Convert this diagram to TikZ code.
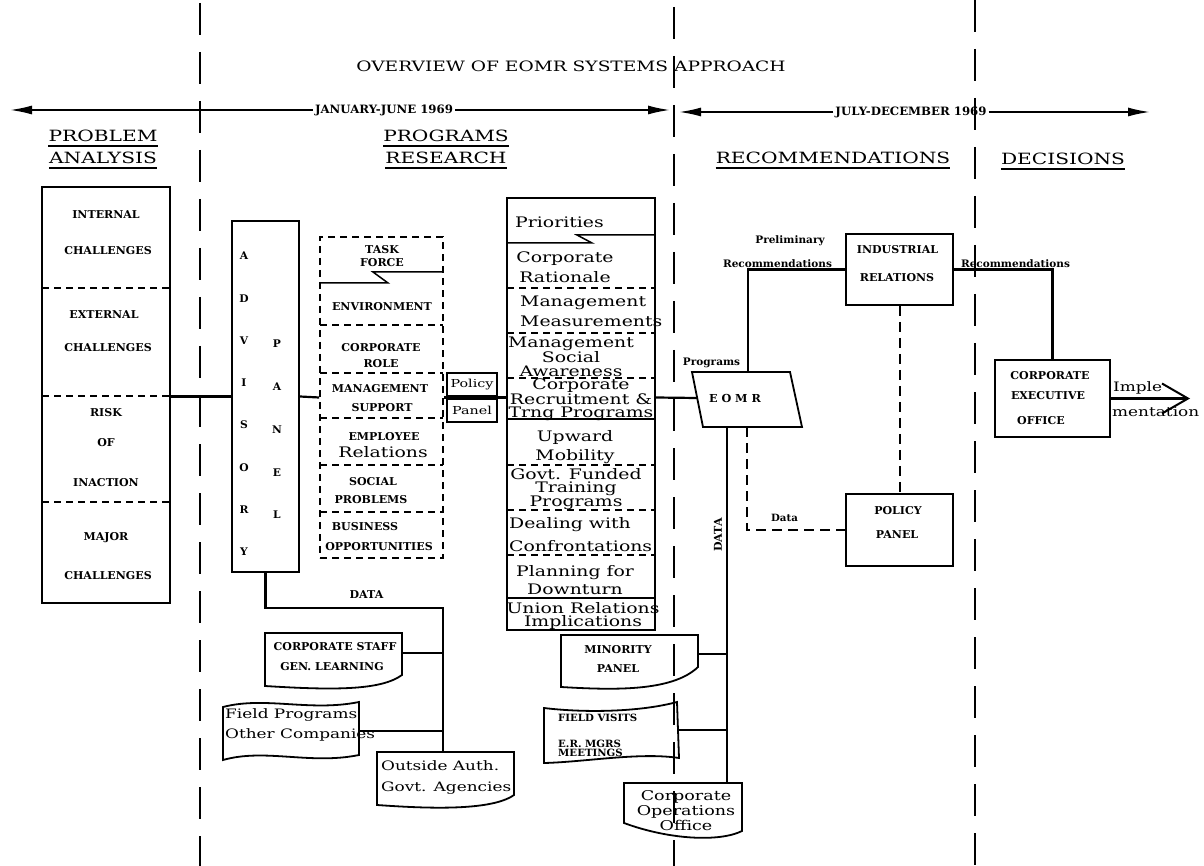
\documentclass[tikz,border=0pt]{standalone}
\usepackage{fontspec}
\setmainfont{DejaVu Serif}[FakeStretch=1.3]
\newfontfamily\lbfont{DejaVu Serif}[FakeStretch=1.02]
\usetikzlibrary{arrows.meta}
\begin{document}
\begin{tikzpicture}[x=1pt,y=-1pt,
  conn/.style={line width=2.2pt},
  thin/.style={line width=1.5pt},
  bx/.style={draw,line width=1.8pt,inner sep=0pt},
  dbox/.style={draw,line width=1.6pt,dash pattern=on 7pt off 5pt,inner sep=0pt},
  dsh/.style={line width=1.6pt,dash pattern=on 7pt off 5pt},
  dsh2/.style={line width=2pt,dash pattern=on 10pt off 6pt},
  sepline/.style={line width=2pt,dash pattern=on 32pt off 17pt},
  doc/.style={line width=1.8pt},
  lb/.style={font=\lbfont\fontsize{10.8}{12}\selectfont\bfseries,inner sep=0pt},
  hd/.style={font=\fontsize{15.5}{17}\selectfont,inner sep=0pt},
  tw/.style={inner sep=0pt,align=center},
  ul/.style={line width=1.4pt},
  bigarrow/.style={line width=1.8pt,-{Latex[length=22pt,width=9pt]}}
]
\useasboundingbox (0,0) rectangle (1204,866);
\fill[white] (0,0) rectangle (1204,866);

% separators
\draw[sepline] (200,3) -- (200,866);
\draw[sepline] (674,7) -- (674,866);
\draw[sepline] (975,0) -- (975,866);

% title and time arrows
\node[font=\fontsize{14.3}{16}\selectfont,inner sep=0pt] (title) at (571,66) {OVERVIEW OF EOMR SYSTEMS APPROACH};
\node[lb,font=\lbfont\fontsize{11.5}{12}\selectfont\bfseries] (jan) at (384,110) {JANUARY-JUNE 1969};
\node[lb,font=\lbfont\fontsize{11.5}{12}\selectfont\bfseries] (jul) at (911,112) {JULY-DECEMBER 1969};
\coordinate (aL1) at (10,110);
\coordinate (aR1) at (670,110);
\coordinate (aL2) at (679,112);
\coordinate (aR2) at (1150,112);
\draw[bigarrow] ([xshift=-2pt]jan.west) -- (aL1);
\draw[bigarrow] ([xshift=2pt]jan.east) -- (aR1);
\draw[bigarrow] ([xshift=-2pt]jul.west) -- (aL2);
\draw[bigarrow] ([xshift=2pt]jul.east) -- (aR2);

% headers
\node[hd] (h1) at (103,136) {PROBLEM};
\node[hd] (h2) at (103,158) {ANALYSIS};
\node[hd] (h3) at (446,136) {PROGRAMS};
\node[hd] (h4) at (446,158) {RESEARCH};
\node[hd] (h5) at (833,158) {RECOMMENDATIONS};
\node[hd] (h6) at (1063,159) {DECISIONS};
\foreach \n in {h1,h2,h3,h4,h5,h6}
  \draw[ul] ([yshift=-4pt]\n.south west) -- ([yshift=-4pt]\n.south east);

% problem analysis column
\node[bx,minimum width=128pt,minimum height=416pt] (prob) at (106,395) {};
\foreach \yy in {288,396,502} \draw[dsh] (42,\yy) -- (170,\yy);
\node[lb] (p1) at (106,215) {INTERNAL};
\node[lb] (p2) at (108,251) {CHALLENGES};
\node[lb] (p3) at (104,315) {EXTERNAL};
\node[lb] (p4) at (108,348) {CHALLENGES};
\node[lb] (p5) at (106,413) {RISK};
\node[lb] (p6) at (106,443) {OF};
\node[lb] (p7) at (106,483) {INACTION};
\node[lb] (p8) at (106,538) {MAJOR};
\node[lb] (p9) at (108,576) {CHALLENGES};

% advisory panel
\node[bx,minimum width=67pt,minimum height=351pt] (adv) at (265.5,396.5) {};
\node[lb,align=center,font=\lbfont\fontsize{10.5}{42.3}\selectfont\bfseries] (advl) at (244,404) {A\\D\\V\\I\\S\\O\\R\\Y};
\node[lb,align=center,font=\lbfont\fontsize{10.5}{42.75}\selectfont\bfseries] (panl) at (277,429.5) {P\\A\\N\\E\\L};

% task force column
\node[dbox,minimum width=123pt,minimum height=321pt] (task) at (381.5,397.5) {};
\draw[thin] (443,272) -- (373,272) -- (388,283) -- (320,283);
\foreach \yy in {325,373,418,465,512} \draw[dsh] (320,\yy) -- (443,\yy);
\node[lb] (k1) at (382,250) {TASK};
\node[lb] (k2) at (382,263) {FORCE};
\node[lb] (k3) at (382,307) {ENVIRONMENT};
\node[lb] (k4) at (381,348) {CORPORATE};
\node[lb] (k5) at (381,364) {ROLE};
\node[lb] (k6) at (380,389) {MANAGEMENT};
\node[lb] (k7) at (382,408) {SUPPORT};
\node[lb] (k8) at (384,437) {EMPLOYEE};
\node[inner sep=0pt,font=\fontsize{14.5}{16}\selectfont] (k9) at (383,452) {Relations};
\node[lb] (k10) at (373,482) {SOCIAL};
\node[lb] (k11) at (371,500) {PROBLEMS};
\node[lb] (k12) at (365,527) {BUSINESS};
\node[lb] (k13) at (379,547) {OPPORTUNITIES};

% policy / panel
\node[bx,minimum width=50pt,minimum height=23pt,font=\fontsize{11}{12}\selectfont] (pol) at (472,384.5) {Policy};
\node[bx,minimum width=50pt,minimum height=23pt,font=\fontsize{11}{12}\selectfont] (pan) at (472,410.5) {Panel};

% priorities column
\node[bx,minimum width=148pt,minimum height=432pt] (prio) at (581,414) {};
\draw[thin] (655,235) -- (577,235) -- (592,243) -- (507,243);
\foreach \yy in {288,333,378,465,510,555} \draw[dsh] (507,\yy) -- (655,\yy);
\foreach \yy in {419,598} \draw[thin] (507,\yy) -- (655,\yy);
\node[inner sep=0pt,anchor=west,font=\fontsize{14.5}{16}\selectfont] (q1) at (515,222) {Priorities};
\node[tw,font=\fontsize{14.5}{20}\selectfont] (q2) at (565,267) {Corporate\\Rationale};
\node[tw,align=left,anchor=west,font=\fontsize{14.5}{20}\selectfont] (q3) at (520,311) {Management\\Measurements};
\node[tw,font=\fontsize{14.5}{13.5}\selectfont] (q4) at (571,356.5) {Management\\Social\\Awareness};
\node[tw,font=\fontsize{14.5}{13}\selectfont] (q5) at (581,400) {Corporate\\Recruitment \&\\Trng Programs};
\node[tw,font=\fontsize{14.5}{19}\selectfont] (q6) at (575,447.5) {Upward\\Mobility};
\node[tw,font=\fontsize{14.5}{13}\selectfont] (q7) at (576,489) {Govt. Funded\\Training\\Programs};
\node[tw,align=left,anchor=west,font=\fontsize{14.5}{23}\selectfont] (q8) at (509,534.5) {Dealing with\\Confrontations};
\node[tw,font=\fontsize{14.5}{18}\selectfont] (q9) at (575,580) {Planning for\\Downturn};
\node[tw,font=\fontsize{14.5}{13}\selectfont] (q10) at (583,615.5) {Union Relations\\Implications};

% EOMR parallelogram
\draw[bx] (692,372) -- (790,372) -- (802,427) -- (703,427) -- cycle;
\node[lb,font=\lbfont\fontsize{11}{12}\selectfont\bfseries] (eomr) at (735,398) {E O M R};
\coordinate (eomrL) at (697,398);
\coordinate (eomrT) at (748,372);
\coordinate (eomrB1) at (727,427);
\coordinate (eomrB2) at (747,427);
\node[lb,font=\lbfont\fontsize{10.3}{12}\selectfont\bfseries] (prg) at (711.5,363) {Programs};

% industrial relations, policy panel, CEO
\node[bx,minimum width=107pt,minimum height=71pt] (ir) at (899.5,269.5) {};
\node[lb] (ir1) at (897.5,250) {INDUSTRIAL};
\node[lb] (ir2) at (897,278) {RELATIONS};
\node[bx,minimum width=107pt,minimum height=72pt] (pp) at (899.5,530) {};
\node[lb] (pp1) at (898,511) {POLICY};
\node[lb] (pp2) at (897,535) {PANEL};
\node[bx,minimum width=115pt,minimum height=77pt] (ceo) at (1052.5,398.5) {};
\node[lb] (c1) at (1050,376) {CORPORATE};
\node[lb] (c2) at (1048,396) {EXECUTIVE};
\node[lb] (c3) at (1041,421) {OFFICE};

\node[lb,font=\lbfont\fontsize{10.3}{12}\selectfont\bfseries] (pre) at (790,241) {Preliminary};
\node[lb,font=\lbfont\fontsize{10.3}{12}\selectfont\bfseries] (rec1) at (777.5,264) {Recommendations};
\node[lb,font=\lbfont\fontsize{10.3}{12}\selectfont\bfseries] (rec2) at (1015.5,264) {Recommendations};
\node[lb,font=\lbfont\fontsize{10}{12}\selectfont\bfseries] (dat1) at (784.5,518) {Data};
\node[lb,rotate=90] (dat2) at (718,535) {DATA};
\node[lb] (dat3) at (366.5,595) {DATA};

% implementation
\coordinate (implT) at (1190,398.5);
\draw[conn,-{Straight Barb[length=26pt,width=30pt,line width=2pt]}] (ceo.east) -- (implT);
\node[inner sep=0pt,anchor=west,font=\fontsize{13}{14}\selectfont] (im1) at (1113,388) {Imple};
\node[inner sep=0pt,anchor=west,font=\fontsize{13}{14}\selectfont] (im2) at (1112,412) {mentation};

% document shapes (sources)
\draw[doc] (265,633) -- (402,633) -- (402,675) .. controls (380,691) and (330,690) .. (265,686) -- cycle;
\node[lb] (cs1) at (335,647) {CORPORATE STAFF};
\node[lb] (cs2) at (332,667) {GEN. LEARNING};
\coordinate (csR) at (402,653);

\draw[doc] (223,707) .. controls (265,696) and (310,712) .. (359,702) -- (359,755) .. controls (310,765) and (265,748) .. (223,760) -- cycle;
\node[inner sep=0pt,align=left,anchor=west,font=\fontsize{13}{20}\selectfont] (fp) at (225,725) {Field Programs\\Other Companies};
\coordinate (fpR) at (359,731);

\draw[doc] (377,752) -- (514,752) -- (514,795) .. controls (490,812) and (420,808) .. (377,805) -- cycle;
\node[inner sep=0pt,align=left,anchor=west,font=\fontsize{13}{21}\selectfont] (oa) at (381,777.5) {Outside Auth.\\Govt. Agencies};
\coordinate (oaT) at (443,752);

\draw[doc] (561,635) -- (698,635) -- (698,667) .. controls (672,692) and (612,690) .. (561,687) -- cycle;
\node[lb] (mp1) at (618,650) {MINORITY};
\node[lb] (mp2) at (618,669) {PANEL};
\coordinate (mpR) at (698,654);

\draw[doc] (544,708) .. controls (585,713) and (640,712) .. (677,702) -- (679,758) .. controls (640,752) and (585,762) .. (544,763) -- cycle;
\node[lb,anchor=west,font=\lbfont\fontsize{10}{12}\selectfont\bfseries] (fv1) at (558,718) {FIELD VISITS};
\node[lb,anchor=west,align=left,font=\lbfont\fontsize{10}{9}\selectfont\bfseries] (fv2) at (558,748) {E.R. MGRS\\MEETINGS};
\coordinate (fvR) at (678,730);

\draw[doc] (624,783) -- (742,783) -- (742,831) .. controls (720,842) and (670,840) .. (624,823) -- cycle;
\node[tw,font=\fontsize{13.5}{15}\selectfont] (coo) at (686,811) {Corporate\\Operations\\Office};
\coordinate (cooT) at (727,783);

% connectors
\draw[conn] (adv.west -| prob.east) -- (adv.west);
\draw[conn] (adv.east) -- (task.west);
\coordinate (gapR) at (507,397.5);
\draw[conn] (task.east) -- (gapR);
\draw[conn] (gapR -| prio.east) -- (eomrL);
\draw[conn] (eomrT) |- (ir.west);
\draw[conn] (ir.east) -| (ceo.north);
\draw[dsh2] (ir.south) -- (pp.north);
\draw[dsh2] (eomrB2) |- (pp.west);
\draw[conn] (eomrB1) -- (cooT);
\draw[conn] (mpR) -- (mpR -| cooT);
\draw[conn] (fvR) -- (fvR -| cooT);
\coordinate (dj) at (443,608);
\draw[conn] (adv.south) |- (dj) -- (oaT);
\draw[conn] (csR) -- (csR -| dj);
\draw[conn] (fpR) -- (fpR -| dj);
\end{tikzpicture}
\end{document}
